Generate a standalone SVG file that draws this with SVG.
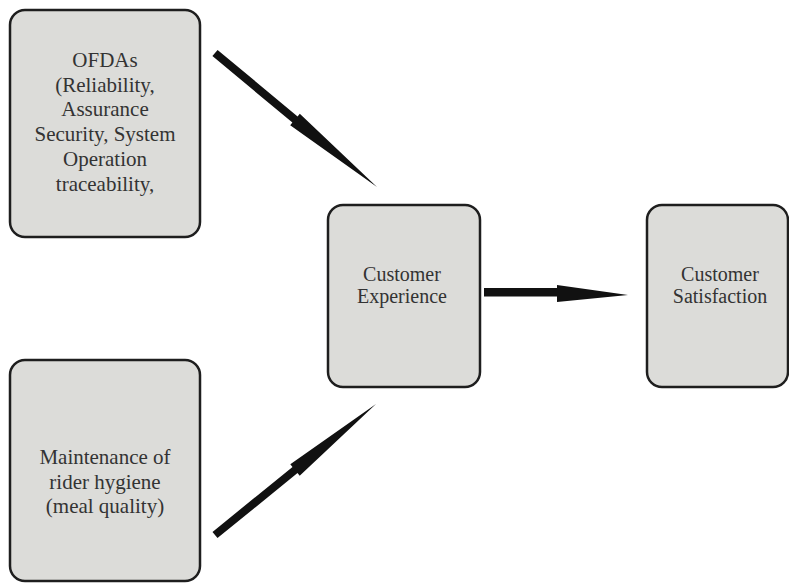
<svg xmlns="http://www.w3.org/2000/svg" width="789" height="583" viewBox="0 0 789 583">
<style>
.box{fill:#dcdcd9;stroke:#1e1e1e;stroke-width:2.5}
.t{fill:#333;text-anchor:middle;font-family:"Times New Roman","Liberation Serif",Tinos,"DejaVu Serif",serif}
.big{font-size:21px}
.mid{font-size:20px}
.arr{fill:#111}
</style>
<rect width="789" height="583" fill="#fff"/>
<g id="ofdas">
<rect class="box" x="10" y="10" width="190" height="227" rx="15"/>
<text class="t big" x="105" y="67">OFDAs</text>
<text class="t big" x="105" y="91.7">(Reliability,</text>
<text class="t big" x="105" y="116.4">Assurance</text>
<text class="t big" x="105" y="141">Security, System</text>
<text class="t big" x="105" y="165.8">Operation</text>
<text class="t big" x="105" y="190.5">traceability,</text>
</g>
<g id="hygiene">
<rect class="box" x="10" y="360" width="190" height="221" rx="15"/>
<text class="t big" x="105" y="464">Maintenance of</text>
<text class="t big" x="105" y="488.5">rider hygiene</text>
<text class="t big" x="105" y="513">(meal quality)</text>
</g>
<g id="experience">
<rect class="box" x="328" y="205" width="152" height="182" rx="15"/>
<text class="t mid" x="402" y="281">Customer</text>
<text class="t mid" x="402" y="303">Experience</text>
</g>
<g id="satisfaction">
<rect class="box" x="647" y="205" width="141" height="182" rx="15"/>
<text class="t mid" x="720" y="281">Customer</text>
<text class="t mid" x="720" y="303">Satisfaction</text>
</g>
<g id="connectors">
<polygon class="arr" points="212.4,56.1 292.4,122.6 290.2,125.3 377,187 299.8,113.7 297.6,116.4 217.6,49.9"/>
<polygon class="arr" points="217.5,538.1 297.5,473.1 299.7,475.8 376,404 290.3,464.2 292.5,466.9 212.5,531.9"/>
<polygon class="arr" points="484,288 557,288 557,285 628,295 557,302 557,296.5 484,296.5"/>
</g>
</svg>
